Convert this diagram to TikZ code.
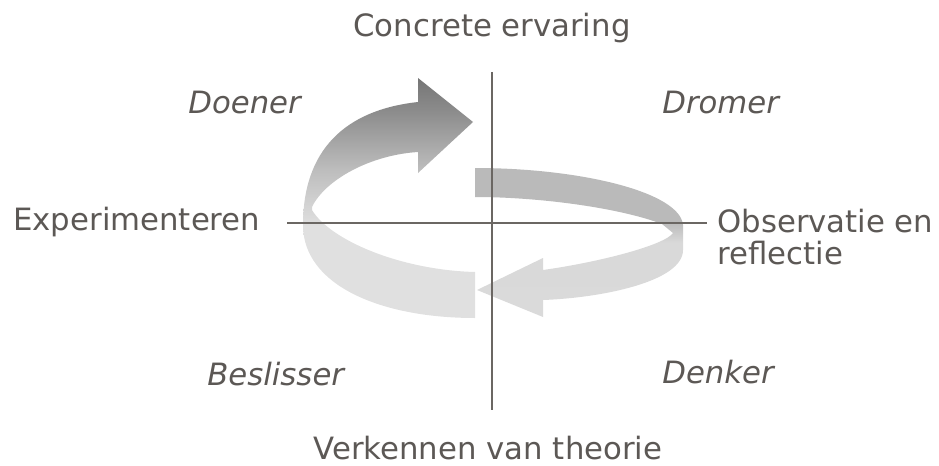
\documentclass[tikz,border=0pt]{standalone}
\usepackage{fontspec}
\setmainfont{DejaVu Sans}
\definecolor{LabelClr}{RGB}{92,88,85}
\definecolor{AxisClr}{RGB}{107,103,99}
\pgfdeclareverticalshading{DoenerShade}{100bp}{color(0bp)=(black!12); color(44bp)=(black!12); color(56bp)=(black!26); color(68bp)=(black!45); color(75bp)=(black!54); color(100bp)=(black!54)}
\pgfdeclareverticalshading{DenkerShade}{100bp}{color(0bp)=(black!14); color(50bp)=(black!15); color(57bp)=(black!27); color(100bp)=(black!27)}

\begin{document}
\begin{tikzpicture}[x=0.02cm,y=-0.02cm,
  label text/.style={font=\fontsize{17.5}{18.2}\selectfont,text=LabelClr,inner sep=0pt},
  role text/.style={label text,font=\fontsize{17.5}{18.2}\selectfont\itshape},
  axis line/.style={line width=1.2pt,color=AxisClr}]
\useasboundingbox (0,0) rectangle (939,466);

% ribbons
\shade[shading=DoenerShade] (475,318) .. controls (380,318) and (303,285) .. (303,225)
  .. controls (303,150) and (345,110) .. (418,102) -- (418,78) -- (473,122) -- (418,173) -- (418,152)
  .. controls (370,155) and (325,180) .. (312,207) -- (312,210)
  .. controls (330,240) and (400,270) .. (475,272) -- cycle;
\shade[shading=DenkerShade] (475,168) .. controls (580,168) and (680,192) .. (683,225) -- (683,250)
  .. controls (683,282) and (600,298) .. (543,300) -- (543,317) -- (477,290) -- (543,258) -- (543,270)
  .. controls (600,262) and (665,245) .. (673,233) -- (662,224)
  .. controls (620,208) and (540,197) .. (475,197) -- cycle;

% axes
\coordinate (ConcTop) at (492,72);
\coordinate (TheoBot) at (492,410);
\coordinate (ExpLeft) at (287,223);
\coordinate (ObsRight) at (707,223);
\draw[axis line] (ConcTop) -- (TheoBot);
\draw[axis line,line width=1.6pt] (ExpLeft) -- (ObsRight);

\node[label text,anchor=base] (Conc) at (492,37) {Concrete ervaring};
\node[label text,anchor=base] (Theo) at (488,459) {Verkennen van theorie};
\node[label text,anchor=base west] (Exp) at (13,230) {Experimenteren};
\node[label text,anchor=north west,align=left] (Obs) at (717,209) {Observatie en\\reflectie};

\node[role text,anchor=base west] (Doener) at (188,113) {Doener};
\node[role text,anchor=base west] (Dromer) at (662,113) {Dromer};
\node[role text,anchor=base west] (Beslisser) at (207,385) {Beslisser};
\node[role text,anchor=base west] (Denker) at (662,383) {Denker};

\end{tikzpicture}
\end{document}
